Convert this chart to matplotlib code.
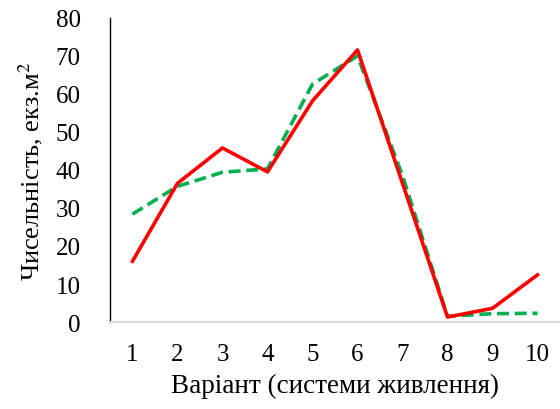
import matplotlib.pyplot as plt

plt.rcParams['font.family'] = ['Liberation Serif', 'DejaVu Serif']
plt.rcParams['mathtext.fontset'] = 'stix'

# варіанти (системи живлення)
variants = ['1', '2', '3', '4', '5', '6', '7', '8', '9', '10']
red_vals = [16.0, 36.5, 45.8, 39.5, 58.2, 71.6, 36.5, 1.3, 3.6, 12.4]
green_vals = [28.4, 35.7, 39.4, 40.3, 62.6, 70.0, 38.5, 1.5, 2.2, 2.3]

fig = plt.figure(figsize=(5.6, 4.1), dpi=100)
ax = fig.add_axes([110 / 560, 1 - 323 / 410, 450 / 560, 304 / 410])

x = list(range(len(variants)))
ax.plot(x, green_vals, color='#00B050', lw=2.6, ls=(0, (3.3, 1.6)))
ax.plot(x, red_vals, color='#FF0000', lw=2.6)

ax.set_xlim(-0.5, len(variants) - 0.5)
ax.set_ylim(0, 80)
ax.set_yticks(range(0, 81, 10))
ax.set_xticks(x)
ax.set_xticklabels(variants)
ax.tick_params(axis='both', length=0, labelsize=18)
ax.tick_params(axis='x', pad=15)
ax.tick_params(axis='y', pad=21)

for s in ['top', 'right']:
    ax.spines[s].set_visible(False)
ax.spines['left'].set_color('black')
ax.spines['left'].set_linewidth(1.0)
ax.spines['bottom'].set_color('#d9d9d9')
ax.spines['bottom'].set_linewidth(1.5)

ax.set_xlabel('Варіант (системи живлення)', fontsize=19.5, labelpad=6)
ax.set_ylabel('Чисельність, екз.м$^2$', fontsize=19, labelpad=8)

fig.savefig('out.png', dpi=100)
